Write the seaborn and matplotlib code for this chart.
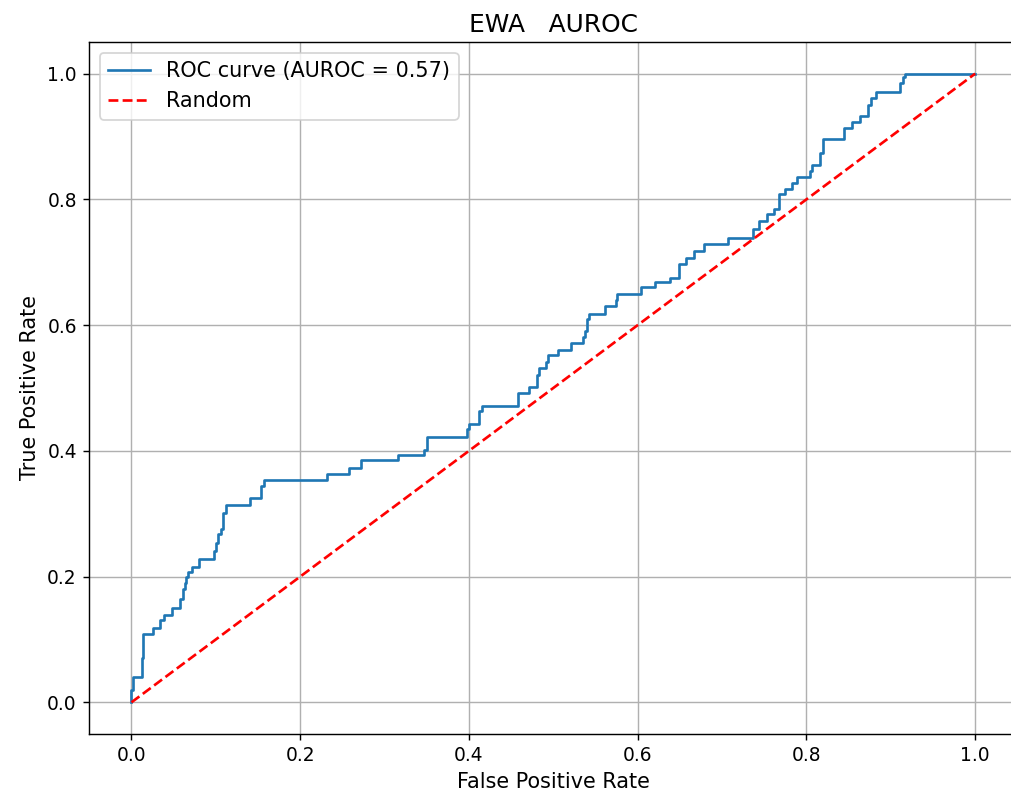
import numpy as np
import pandas as pd
import seaborn as sns
from matplotlib import pyplot as plt

# ROC 曲线的阶梯拐点 (每一级上升后的坐标)
fpr = [0.0, 0.0, 0.002, 0.0126, 0.014, 0.026, 0.034, 0.039, 0.048, 0.058,
       0.061, 0.063, 0.065, 0.067, 0.072, 0.080, 0.098, 0.100, 0.1025, 0.106,
       0.109, 0.112, 0.140, 0.154, 0.157, 0.232, 0.258, 0.272, 0.316, 0.347,
       0.350, 0.398, 0.400, 0.412, 0.415, 0.458, 0.471, 0.481, 0.483, 0.491,
       0.494, 0.506, 0.521, 0.535, 0.537, 0.540, 0.542, 0.561, 0.574, 0.576,
       0.604, 0.621, 0.638, 0.649, 0.657, 0.667, 0.679, 0.707, 0.737, 0.744,
       0.753, 0.761, 0.767, 0.774, 0.783, 0.789, 0.804, 0.807, 0.816, 0.820,
       0.845, 0.854, 0.864, 0.873, 0.876, 0.882, 0.911, 0.914, 0.917, 1.0]
tpr = [0.0, 0.02, 0.04, 0.07, 0.109, 0.118, 0.131, 0.139, 0.150, 0.165,
       0.180, 0.190, 0.200, 0.208, 0.216, 0.228, 0.240, 0.253, 0.267, 0.275,
       0.301, 0.314, 0.325, 0.344, 0.353, 0.363, 0.373, 0.385, 0.393, 0.402,
       0.422, 0.434, 0.443, 0.463, 0.472, 0.492, 0.502, 0.521, 0.531, 0.541,
       0.552, 0.561, 0.572, 0.581, 0.590, 0.610, 0.618, 0.630, 0.640, 0.649,
       0.660, 0.668, 0.675, 0.697, 0.707, 0.718, 0.729, 0.738, 0.753, 0.766,
       0.776, 0.785, 0.808, 0.816, 0.826, 0.835, 0.845, 0.854, 0.874, 0.896,
       0.914, 0.923, 0.933, 0.950, 0.962, 0.971, 0.985, 0.994, 1.0, 1.0]
auroc = 0.57

rand_x = [0.0, 1.0]
rand_y = [0.0, 1.0]

roc_df = pd.DataFrame({'fpr': fpr, 'tpr': tpr})
rand_df = pd.DataFrame({'fpr': rand_x, 'tpr': rand_y})

fig = plt.figure(figsize=(1011 / 128, 798 / 128), dpi=128)
ax = fig.add_axes([0.0883, 0.0805, 0.918, 0.8666])

# 阶梯式 ROC 曲线
sns.lineplot(data=roc_df, x='fpr', y='tpr', ax=ax, sort=False, estimator=None,
             drawstyle='steps-post', color='#1f77b4', linewidth=1.5,
             label=f'ROC curve (AUROC = {auroc:.2f})')
# 随机基线
sns.lineplot(data=rand_df, x='fpr', y='tpr', ax=ax, sort=False, estimator=None,
             color='red', linestyle='--', linewidth=1.5, label='Random')

ax.set_xlim(-0.05, 1.05)
ax.set_ylim(-0.05, 1.05)
ax.set_xticks(np.arange(0, 1.01, 0.2))
ax.set_yticks(np.arange(0, 1.01, 0.2))
ax.tick_params(labelsize=10.5)
ax.set_xlabel('False Positive Rate', fontsize=11.7)
ax.set_ylabel('True Positive Rate', fontsize=11.7)
ax.set_title('EWA   AUROC', fontsize=14)
ax.grid(True)
ax.legend(loc='upper left', fontsize=11.7)

fig.savefig('out.png', dpi=128)
